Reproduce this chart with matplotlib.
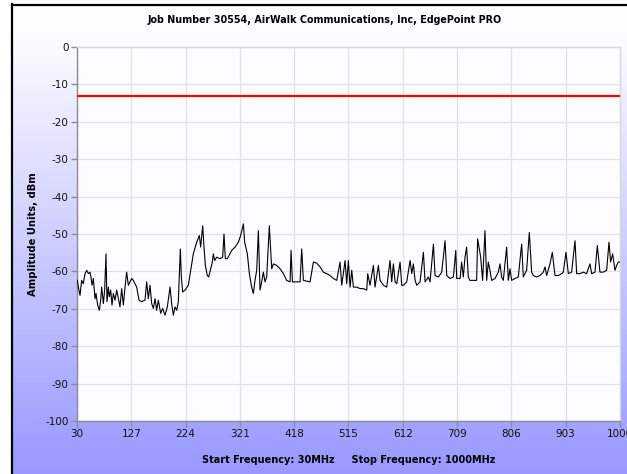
import numpy as np
import matplotlib
matplotlib.use("Agg")
import matplotlib.pyplot as plt
from matplotlib.lines import Line2D

# Spectrum sweep, frequency in MHz and measured level in dBm
freq_mhz = [
    30.6, 32.4, 35.4, 38.3, 41.3, 44.3, 47.3, 50.3, 53.2, 55.0, 56.8, 59.2, 62.2, 64.0,
    66.9, 69.9, 72.3, 74.1, 77.1, 79.4, 81.8, 83.6, 86.0, 87.8, 90.2, 92.5, 94.9, 97.9,
    100.9, 106.8, 109.8, 112.8, 115.8, 118.7, 121.7, 127.7, 130.6, 136.6, 140.8, 145.5,
    151.5, 154.5, 157.4, 160.4, 163.4, 166.4, 169.4, 172.3, 175.3, 179.5, 183.0, 187.2,
    191.4, 196.2, 199.1, 202.1, 205.1, 208.1, 211.0, 214.6, 216.4, 218.8, 223.0, 228.9,
    233.1, 237.8, 243.8, 248.6, 250.9, 254.5, 256.9, 259.3, 262.8, 265.2, 268.8, 271.2,
    273.6, 275.9, 279.5, 285.5, 290.2, 292.6, 295.0, 298.6, 306.3, 312.3, 318.2, 322.4,
    327.2, 329.5, 334.3, 337.9, 342.0, 345.0, 348.0, 351.0, 354.0, 356.9, 359.9, 362.9,
    365.9, 368.8, 373.6,
    377.8, 380.8, 386.8, 392.7, 398.7, 404.6, 410.6, 412.4, 414.8, 422.5, 428.5, 431.4,
    434.4, 446.3, 452.3, 458.2, 464.2, 470.1, 476.1, 482.1, 488.0, 494.0, 499.9, 502.9,
    508.9, 511.8, 514.8, 517.8, 520.8, 523.7, 529.7, 535.7, 541.6, 547.6, 549.3, 553.5,
    559.5, 562.4, 568.4, 571.4, 577.3, 583.3, 589.2, 592.2, 595.2, 598.2, 601.2, 607.1,
    610.1, 613.1, 619.0, 625.0, 628.0, 630.9, 633.9, 636.9, 642.8, 648.8, 651.8, 657.7,
    660.7, 666.7, 669.6, 675.6, 681.5, 687.5, 690.5, 696.4, 702.4, 706.6, 708.3, 714.3,
    717.1, 720.1, 723.1, 726.0, 729.0, 732.0, 738.0, 743.9, 745.7, 748.7, 751.1, 754.6,
    758.8, 761.8, 764.7, 767.7, 770.7, 776.7, 782.6, 785.6, 788.6, 791.5, 797.5, 800.5,
    803.5, 806.4, 812.4, 818.3, 824.3, 827.3, 833.2, 838.0, 842.2, 845.1, 851.1, 857.1,
    863.0, 866.0, 869.0, 874.9, 879.1, 883.9, 889.8, 895.8, 898.7, 903.5, 907.7, 913.6,
    919.6, 922.6, 928.5, 934.5, 940.4, 946.4, 949.4, 955.3, 959.5, 964.2, 970.2, 976.2,
    980.3, 983.3, 986.9, 991.0, 994.0, 997.0, 1000.0,
]
level_dbm = [
    -62.4, -64.2, -66.4, -62.4, -63.3, -60.6, -59.7, -60.6, -60.2, -61.5, -63.7, -61.9, -67.3, -65.9,
    -69.0, -70.4, -67.7, -64.2, -68.6, -65.0, -55.3, -68.1, -64.2, -66.8, -65.0, -69.0, -65.9, -67.7,
    -65.0, -69.5, -64.6, -69.0, -64.2, -60.2, -63.7, -61.9, -62.4, -64.2, -67.7, -68.1,
    -67.7, -62.8, -67.3, -63.7, -68.6, -69.9, -67.3, -70.4, -67.7, -71.2, -69.9, -71.7,
    -69.5, -64.2, -68.6, -71.7, -69.5, -70.4, -68.1, -54.0, -61.5, -65.5, -65.0, -63.7,
    -59.7, -55.3, -52.2, -50.4, -53.5, -47.8, -53.5, -58.4, -61.1, -61.5, -59.3, -58.0,
    -55.3, -57.1, -56.2, -56.6, -56.2, -50.0, -56.6, -56.6, -54.4, -53.5, -52.2, -50.4,
    -47.3, -52.2, -55.3, -60.6, -64.2, -65.9, -62.4, -59.7, -49.1, -65.0, -62.8, -60.2,
    -62.8, -61.5, -47.8,
    -59.3, -58.0, -58.4, -59.3, -60.6, -62.4, -62.8, -54.4, -62.8, -62.8, -62.8, -54.0,
    -62.4, -62.8, -57.5, -57.8, -58.8, -60.2, -60.6, -61.1, -61.9, -62.4, -57.5, -63.7,
    -57.1, -63.3, -57.1, -64.2, -59.7, -64.2, -64.2, -64.6, -64.6, -65.0, -60.6, -63.7,
    -58.4, -64.2, -58.4, -62.4, -63.7, -64.2, -57.1, -62.8, -58.0, -62.8, -63.3, -57.5,
    -63.7, -63.7, -62.8, -57.1, -60.6, -58.0, -62.4, -63.7, -62.8, -54.9, -62.8, -61.5,
    -62.8, -52.7, -61.1, -61.5, -60.2, -51.8, -61.1, -61.9, -61.5, -54.4, -61.9, -61.9,
    -57.5, -61.5, -56.2, -53.5, -61.5, -62.4, -62.4, -62.4, -51.3, -54.0, -56.2, -62.4,
    -49.1, -62.4, -57.5, -59.7, -62.4, -61.9, -60.2, -58.0, -61.5, -62.4, -53.5, -62.4,
    -59.3, -62.4, -61.9, -61.5, -52.7, -61.5, -59.7, -49.6, -60.2, -61.1, -61.5, -61.1,
    -60.2, -58.8, -61.1, -58.0, -54.9, -61.1, -61.1, -60.6, -60.2, -54.9, -60.6, -60.2,
    -51.8, -60.6, -60.6, -60.2, -60.6, -58.0, -60.6, -60.2, -53.1, -60.2, -60.2, -59.7,
    -52.2, -57.5, -55.3, -59.7, -58.4, -57.5, -57.5,
]

limit_dbm = -13
x_ticks = [30, 127, 224, 321, 418, 515, 612, 709, 806, 903, 1000]
y_ticks = [0, -10, -20, -30, -40, -50, -60, -70, -80, -90, -100]

title_text = "Job Number 30554, AirWalk Communications, Inc, EdgePoint PRO"
x_label = "Start Frequency: 30MHz     Stop Frequency: 1000MHz"
y_label = "Amplitude Units, dBm"

plt.rcParams["font.family"] = ["DejaVu Sans"]
plt.rcParams["axes.unicode_minus"] = False

W, H = 627, 474
fig = plt.figure(figsize=(W / 100, H / 100), dpi=100, facecolor="white")

# Vertical white-to-lavender backdrop inside the frame
rows = np.arange(H)
t = np.clip((rows - 33) / (H - 33), 0, 1)
top_c = np.array([253, 253, 255]) / 255
bot_c = np.array([152, 152, 255]) / 255
col = top_c[None, :] * (1 - t[:, None]) + bot_c[None, :] * t[:, None]
grad = np.repeat(col[:, None, :], W, axis=1)
grad[:, :11, :] = 1.0
grad[:4, :, :] = 1.0
bg = fig.add_axes([0, 0, 1, 1], zorder=0)
bg.imshow(grad, extent=(0, W, 0, H), aspect="auto", interpolation="nearest")
bg.set_xlim(0, W)
bg.set_ylim(0, H)
bg.axis("off")

# Frame lines at the left and top
bg.add_line(Line2D([11.5, 11.5], [0, H - 4], color="black", lw=1.6))
bg.add_line(Line2D([11.5, W], [H - 4.5, H - 4.5], color="black", lw=1.6))

ax = fig.add_axes([77 / W, 1 - 421 / H, (620 - 77) / W, (421 - 47) / H], zorder=2)
ax.set_facecolor("#fdfdff")
ax.set_xlim(30, 1000)
ax.set_ylim(-100, 0)
ax.set_xticks(x_ticks)
ax.set_yticks(y_ticks)
ax.set_xticklabels([str(v) for v in x_ticks])
ax.set_yticklabels([str(v) for v in y_ticks])
ax.grid(True, color="#e2e2e2", lw=0.9)
ax.set_axisbelow(True)

for side in ("left", "bottom"):
    ax.spines[side].set_color("#8a8a9a")
    ax.spines[side].set_linewidth(1.0)
for side in ("top", "right"):
    ax.spines[side].set_color("#d8d8d8")
    ax.spines[side].set_linewidth(1.0)

ax.tick_params(axis="both", labelsize=7.5, colors="#8a8a9a", labelcolor="#111111",
               length=4, width=1.0, pad=2)

ax.axhline(limit_dbm, color="#ff0000", lw=1.6, zorder=3)
ax.plot(freq_mhz, level_dbm, color="black", lw=0.8, zorder=4)

ax.set_xlabel(x_label, fontsize=7, fontweight="bold", labelpad=11)
ax.set_ylabel(y_label, fontsize=7.2, fontweight="bold", labelpad=5.5)
fig.text(325 / W, 1 - 20 / H, title_text, ha="center", va="center",
         fontsize=6.9, fontweight="bold", zorder=3)

fig.savefig("out.png", dpi=100)
